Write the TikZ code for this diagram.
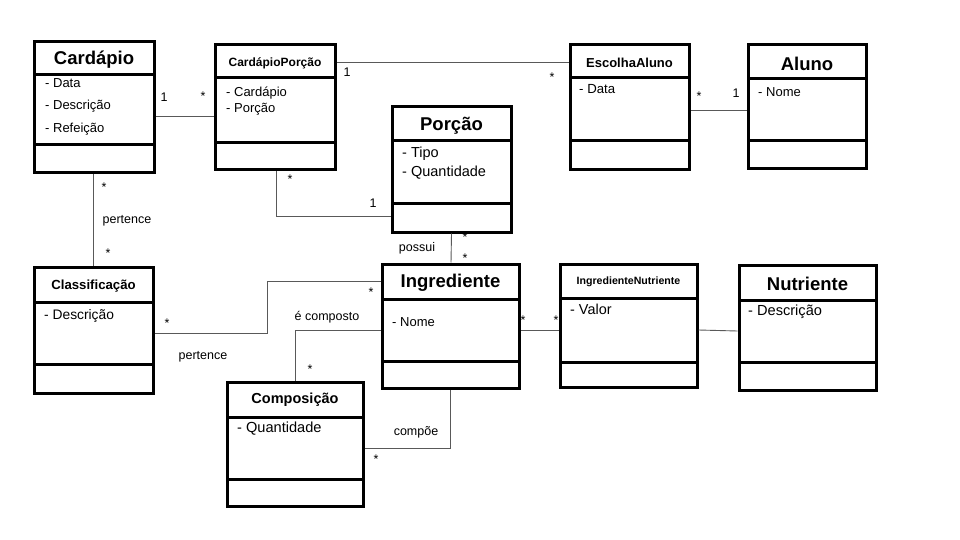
\documentclass[tikz,border=0pt]{standalone}
\usepackage{fontspec}
\setmainfont{Liberation Sans}
\begin{document}
\begin{tikzpicture}[x=1pt, y=-1pt,
	classbox/.style={draw, line width=3pt, inner sep=0pt},
	divider/.style={line width=3pt},
	assoc/.style={draw=black!65, line width=0.9pt},
	classtitle/.style={font=\bfseries\fontsize{#1}{#1}\selectfont, inner sep=0pt},
	attr/.style={anchor=west, font=\fontsize{#1}{#1}\selectfont, text height=1em, text depth=0pt, inner sep=0pt, align=left},
	multlabel/.style={font=\fontsize{12.5}{12.5}\selectfont, inner sep=0pt}]
	\useasboundingbox (0,0) rectangle (960,540);

	% classes
	\node[classbox, minimum width=120pt, minimum height=131pt] (card) at (94,107.5) {};
	\draw[divider] (34,75) -- (154,75);
	\draw[divider] (34,145) -- (154,145);
	\draw (94,60) node[classtitle=18.5] (cardT) {Cardápio};
	\draw (45,83) node[attr=13] (cardA1) {- Data};
	\draw (45,105) node[attr=13] (cardA2) {- Descrição};
	\draw (45,128) node[attr=13] (cardA3) {- Refeição};

	\node[classbox, minimum width=120pt, minimum height=125pt] (cp) at (275,107.5) {};
	\draw[divider] (215,78) -- (335,78);
	\draw[divider] (215,143) -- (335,143);
	\draw (275,63) node[classtitle=12] (cpT) {CardápioPorção};
	\draw (226,92) node[attr=13] (cpA1) {- Cardápio};
	\draw (226,108) node[attr=13] (cpA2) {- Porção};

	\node[classbox, minimum width=119pt, minimum height=125pt] (esc) at (629.5,107.5) {};
	\draw[divider] (570,78) -- (689,78);
	\draw[divider] (570,141) -- (689,141);
	\draw (629.5,63) node[classtitle=13] (escT) {EscolhaAluno};
	\draw (579,89) node[attr=13.2] (escA1) {- Data};

	\node[classbox, minimum width=118pt, minimum height=124pt] (aluno) at (807,107) {};
	\draw[divider] (748,79) -- (866,79);
	\draw[divider] (748,141) -- (866,141);
	\draw (807,64) node[classtitle=18.5] (alunoT) {Aluno};
	\draw (758,92) node[attr=13] (alunoA1) {- Nome};

	\node[classbox, minimum width=119pt, minimum height=125pt] (porcao) at (451.5,169.5) {};
	\draw[divider] (392,141) -- (511,141);
	\draw[divider] (392,203) -- (511,203);
	\draw (451.5,126) node[classtitle=18.5] (porcaoT) {Porção};
	\draw (402,153) node[attr=14.5] (porcaoA1) {- Tipo};
	\draw (402,172) node[attr=14.5] (porcaoA2) {- Quantidade};

	\node[classbox, minimum width=119pt, minimum height=126pt] (class) at (93.5,330) {};
	\draw[divider] (34,302) -- (153,302);
	\draw[divider] (34,364) -- (153,364);
	\draw (93.5,286) node[classtitle=13.2] (classT) {Classificação};
	\draw (44,314) node[attr=13.8] (classA1) {- Descrição};

	\node[classbox, minimum width=137pt, minimum height=124pt] (ingr) at (450.5,326) {};
	\draw[divider] (382,299) -- (519,299);
	\draw[divider] (382,361) -- (519,361);
	\draw (450.5,283) node[classtitle=18.5] (ingrT) {Ingrediente};
	\draw (392,321) node[attr=13] (ingrA1) {- Nome};

	\node[classbox, minimum width=136pt, minimum height=124pt] (comp) at (295,444) {};
	\draw[divider] (227,417) -- (363,417);
	\draw[divider] (227,479) -- (363,479);
	\draw (295,400) node[classtitle=14.5] (compT) {Composição};
	\draw (237,427) node[attr=14.6] (compA1) {- Quantidade};

	\node[classbox, minimum width=137pt, minimum height=123pt] (ingnut) at (628.5,325.5) {};
	\draw[divider] (560,298) -- (697,298);
	\draw[divider] (560,362) -- (697,362);
	\draw (628.5,282) node[classtitle=10.6] (ingnutT) {IngredienteNutriente};
	\draw (570,309) node[attr=14.4] (ingnutA1) {- Valor};

	\node[classbox, minimum width=137pt, minimum height=125pt] (nut) at (807.5,327.5) {};
	\draw[divider] (739,300) -- (876,300);
	\draw[divider] (739,362) -- (876,362);
	\draw (807.5,284) node[classtitle=18.5] (nutT) {Nutriente};
	\draw (748,310) node[attr=14.6] (nutA1) {- Descrição};

	% associations
	\draw[assoc] ([yshift=-8.5pt]card.east) -- ([yshift=-8.5pt]cp.west);
	\draw[assoc] ([yshift=45.5pt]cp.east) -- ([yshift=45.5pt]esc.west);
	\draw[assoc] ([yshift=-2.5pt]esc.east) -- ([yshift=-3pt]aluno.west);
	\draw[assoc] ([xshift=-1pt]card.south) -- ([xshift=-0.5pt]class.north);
	\draw[assoc] ([xshift=1pt]cp.south) |- ([yshift=-46.5pt]porcao.west);
	\draw[assoc] (porcao.south) -- ([xshift=0.5pt]ingr.north);
	\draw[assoc] ([yshift=-3pt]class.east) -- ++(113,0) |- ([yshift=45pt]ingr.west);
	\draw[assoc] (comp.north) |- ([yshift=-4pt]ingr.west);
	\draw[assoc] ([yshift=-4pt]comp.east) -| (ingr.south);
	\draw[assoc] ([yshift=-4pt]ingr.east) -- ([yshift=-4.5pt]ingnut.west);
	\draw[assoc] ([yshift=-4.5pt]ingnut.east) -- ([yshift=-3.5pt]nut.west);

	% multiplicities and roles
	\draw (164,97) node[multlabel] (m1) {1};
	\draw (203,96) node[multlabel] (m2) {*};
	\draw (347,72) node[multlabel] (m3) {1};
	\draw (552,77) node[multlabel] (m4) {*};
	\draw (699,96) node[multlabel] (m5) {*};
	\draw (736,93) node[multlabel] (m6) {1};
	\draw (104,187) node[multlabel] (m7) {*};
	\draw (127,221) node[multlabel] (r1) {pertence};
	\draw (108,253) node[multlabel] (m8) {*};
	\draw (290,179) node[multlabel] (m9) {*};
	\draw (373,203) node[multlabel] (m10) {1};
	\draw (417,248) node[multlabel] (r2) {possui};
	\draw (465,237) node[multlabel] (m11) {*};
	\draw (465,258) node[multlabel] (m12) {*};
	\draw (167,323) node[multlabel] (m13) {*};
	\draw (203,357) node[multlabel] (r3) {pertence};
	\draw (371,292) node[multlabel] (m14) {*};
	\draw (327,317) node[multlabel] (r4) {é composto};
	\draw (310,369) node[multlabel] (m15) {*};
	\draw (416,432) node[multlabel] (r5) {compõe};
	\draw (376,459) node[multlabel] (m16) {*};
	\draw (523,320) node[multlabel] (m17) {*};
	\draw (556,320) node[multlabel] (m18) {*};
\end{tikzpicture}
\end{document}
